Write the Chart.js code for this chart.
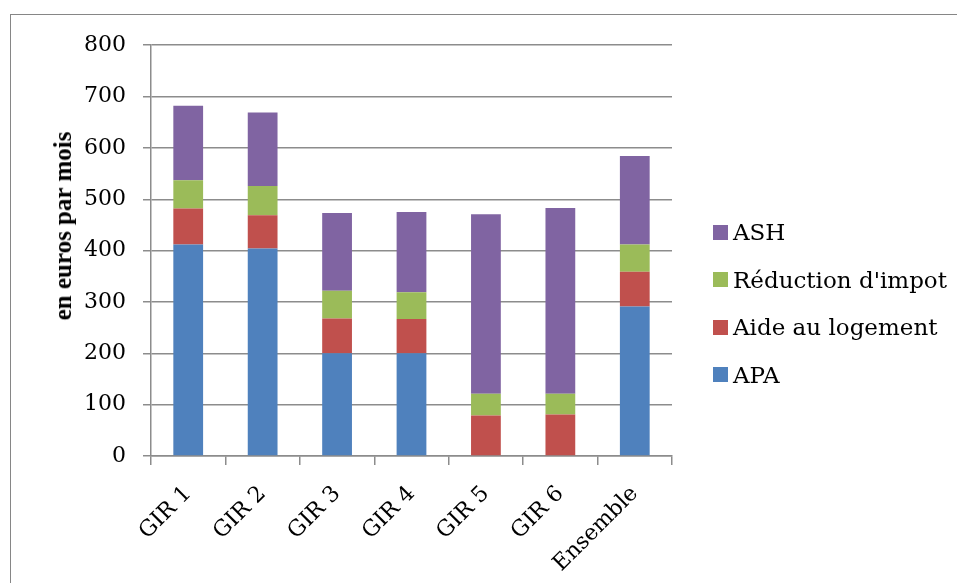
<!DOCTYPE html>
<html lang="fr">
<head>
<meta charset="utf-8">
<title>Aides par GIR</title>
<script src="https://cdn.jsdelivr.net/npm/chart.js@4.4.1/dist/chart.umd.min.js"></script>
<style>
  html, body { margin: 0; padding: 0; background: #fff; overflow: hidden; }
  body { width: 957px; height: 583px; position: relative; font-family: "DejaVu Serif", serif; color: #000; }
  #cadre { position: absolute; left: 10px; top: 14px; width: 990px; height: 620px; border: 1px solid #868686; }
  #zone { position: absolute; left: 11px; top: 15px; width: 936px; height: 577px; }
  #titre-y {
    position: absolute; left: 63px; top: 226px;
    transform: translate(-50%, -50%) rotate(-90deg);
    font-family: "Liberation Serif", serif;
    font-weight: bold; font-size: 25px; white-space: nowrap;
  }
  .item { position: absolute; left: 713px; height: 26px; display: flex; align-items: center; font-size: 23px; white-space: nowrap; }
  .carre { width: 15px; height: 15px; margin-right: 5px; }
</style>
</head>
<body>
<div id="cadre"></div>
<div id="zone"><canvas id="graph"></canvas></div>
<div id="titre-y">en euros par mois</div>
<div id="legende"></div>

<script>
// ==================== DONNÉES ====================
const categories = ['GIR 1', 'GIR 2', 'GIR 3', 'GIR 4', 'GIR 5', 'GIR 6', 'Ensemble'];

const apa = [412, 404, 200, 200, 0, 0, 291];
const aideLogement = [70, 65, 68, 67, 79, 81, 68];
const reductionImpot = [55, 57, 54, 52, 42, 40, 53];
const ash = [145, 143, 151, 156, 350, 362, 172];

const seriesNames = ['APA', 'Aide au logement', "Réduction d'impot", 'ASH'];
const seriesColors = ['#4F81BD', '#C0504D', '#9BBB59', '#8064A2'];
const seriesValues = [apa, aideLogement, reductionImpot, ash];

const yMin = 0;
const yMax = 800;
const yStep = 100;

const gris = '#8c8c8c';
const police = '"DejaVu Serif", serif';

// ==================== LÉGENDE (HTML) ====================
// ASH en haut, APA en bas, comme dans l'original
const legende = document.getElementById('legende');
const ordreLegende = seriesNames.map((nom, i) => i).reverse();
legende.innerHTML = ordreLegende.map((i, rang) => `
  <div class="item" style="top:${232 - 13 + rang * 47.6}px">
    <span class="carre" style="background:${seriesColors[i]}"></span>${seriesNames[i]}
  </div>
`).join('');

// ==================== GRAPHIQUE ====================
const datasets = seriesNames.map((nom, i) => ({
  label: nom,
  data: seriesValues[i],
  backgroundColor: seriesColors[i],
  borderWidth: 0,
  barPercentage: 0.4,
  categoryPercentage: 1
}));

new Chart(document.getElementById('graph'), {
  type: 'bar',
  data: { labels: categories, datasets: datasets },
  options: {
    responsive: true,
    maintainAspectRatio: false,
    animation: false,
    layout: { padding: { left: 0, right: 275, top: 29, bottom: 0 } },
    plugins: {
      legend: { display: false },
      tooltip: { enabled: false }
    },
    scales: {
      x: {
        stacked: true,
        afterFit: (scale) => { scale.height = 136; },
        grid: { drawOnChartArea: false, drawTicks: true, tickLength: 9, color: gris, lineWidth: 1.5 },
        border: { display: true, color: gris, width: 1.5 },
        ticks: {
          color: '#000',
          font: { family: police, size: 22 },
          minRotation: 45,
          maxRotation: 45,
          padding: 16
        }
      },
      y: {
        stacked: true,
        min: yMin,
        max: yMax,
        afterFit: (scale) => { scale.width = 140; },
        grid: { color: gris, lineWidth: 1.5, tickLength: 8 },
        border: { display: true, color: gris, width: 1.5 },
        ticks: {
          stepSize: yStep,
          color: '#000',
          padding: 17,
          font: { family: police, size: 22 }
        }
      }
    }
  }
});
</script>
</body>
</html>
